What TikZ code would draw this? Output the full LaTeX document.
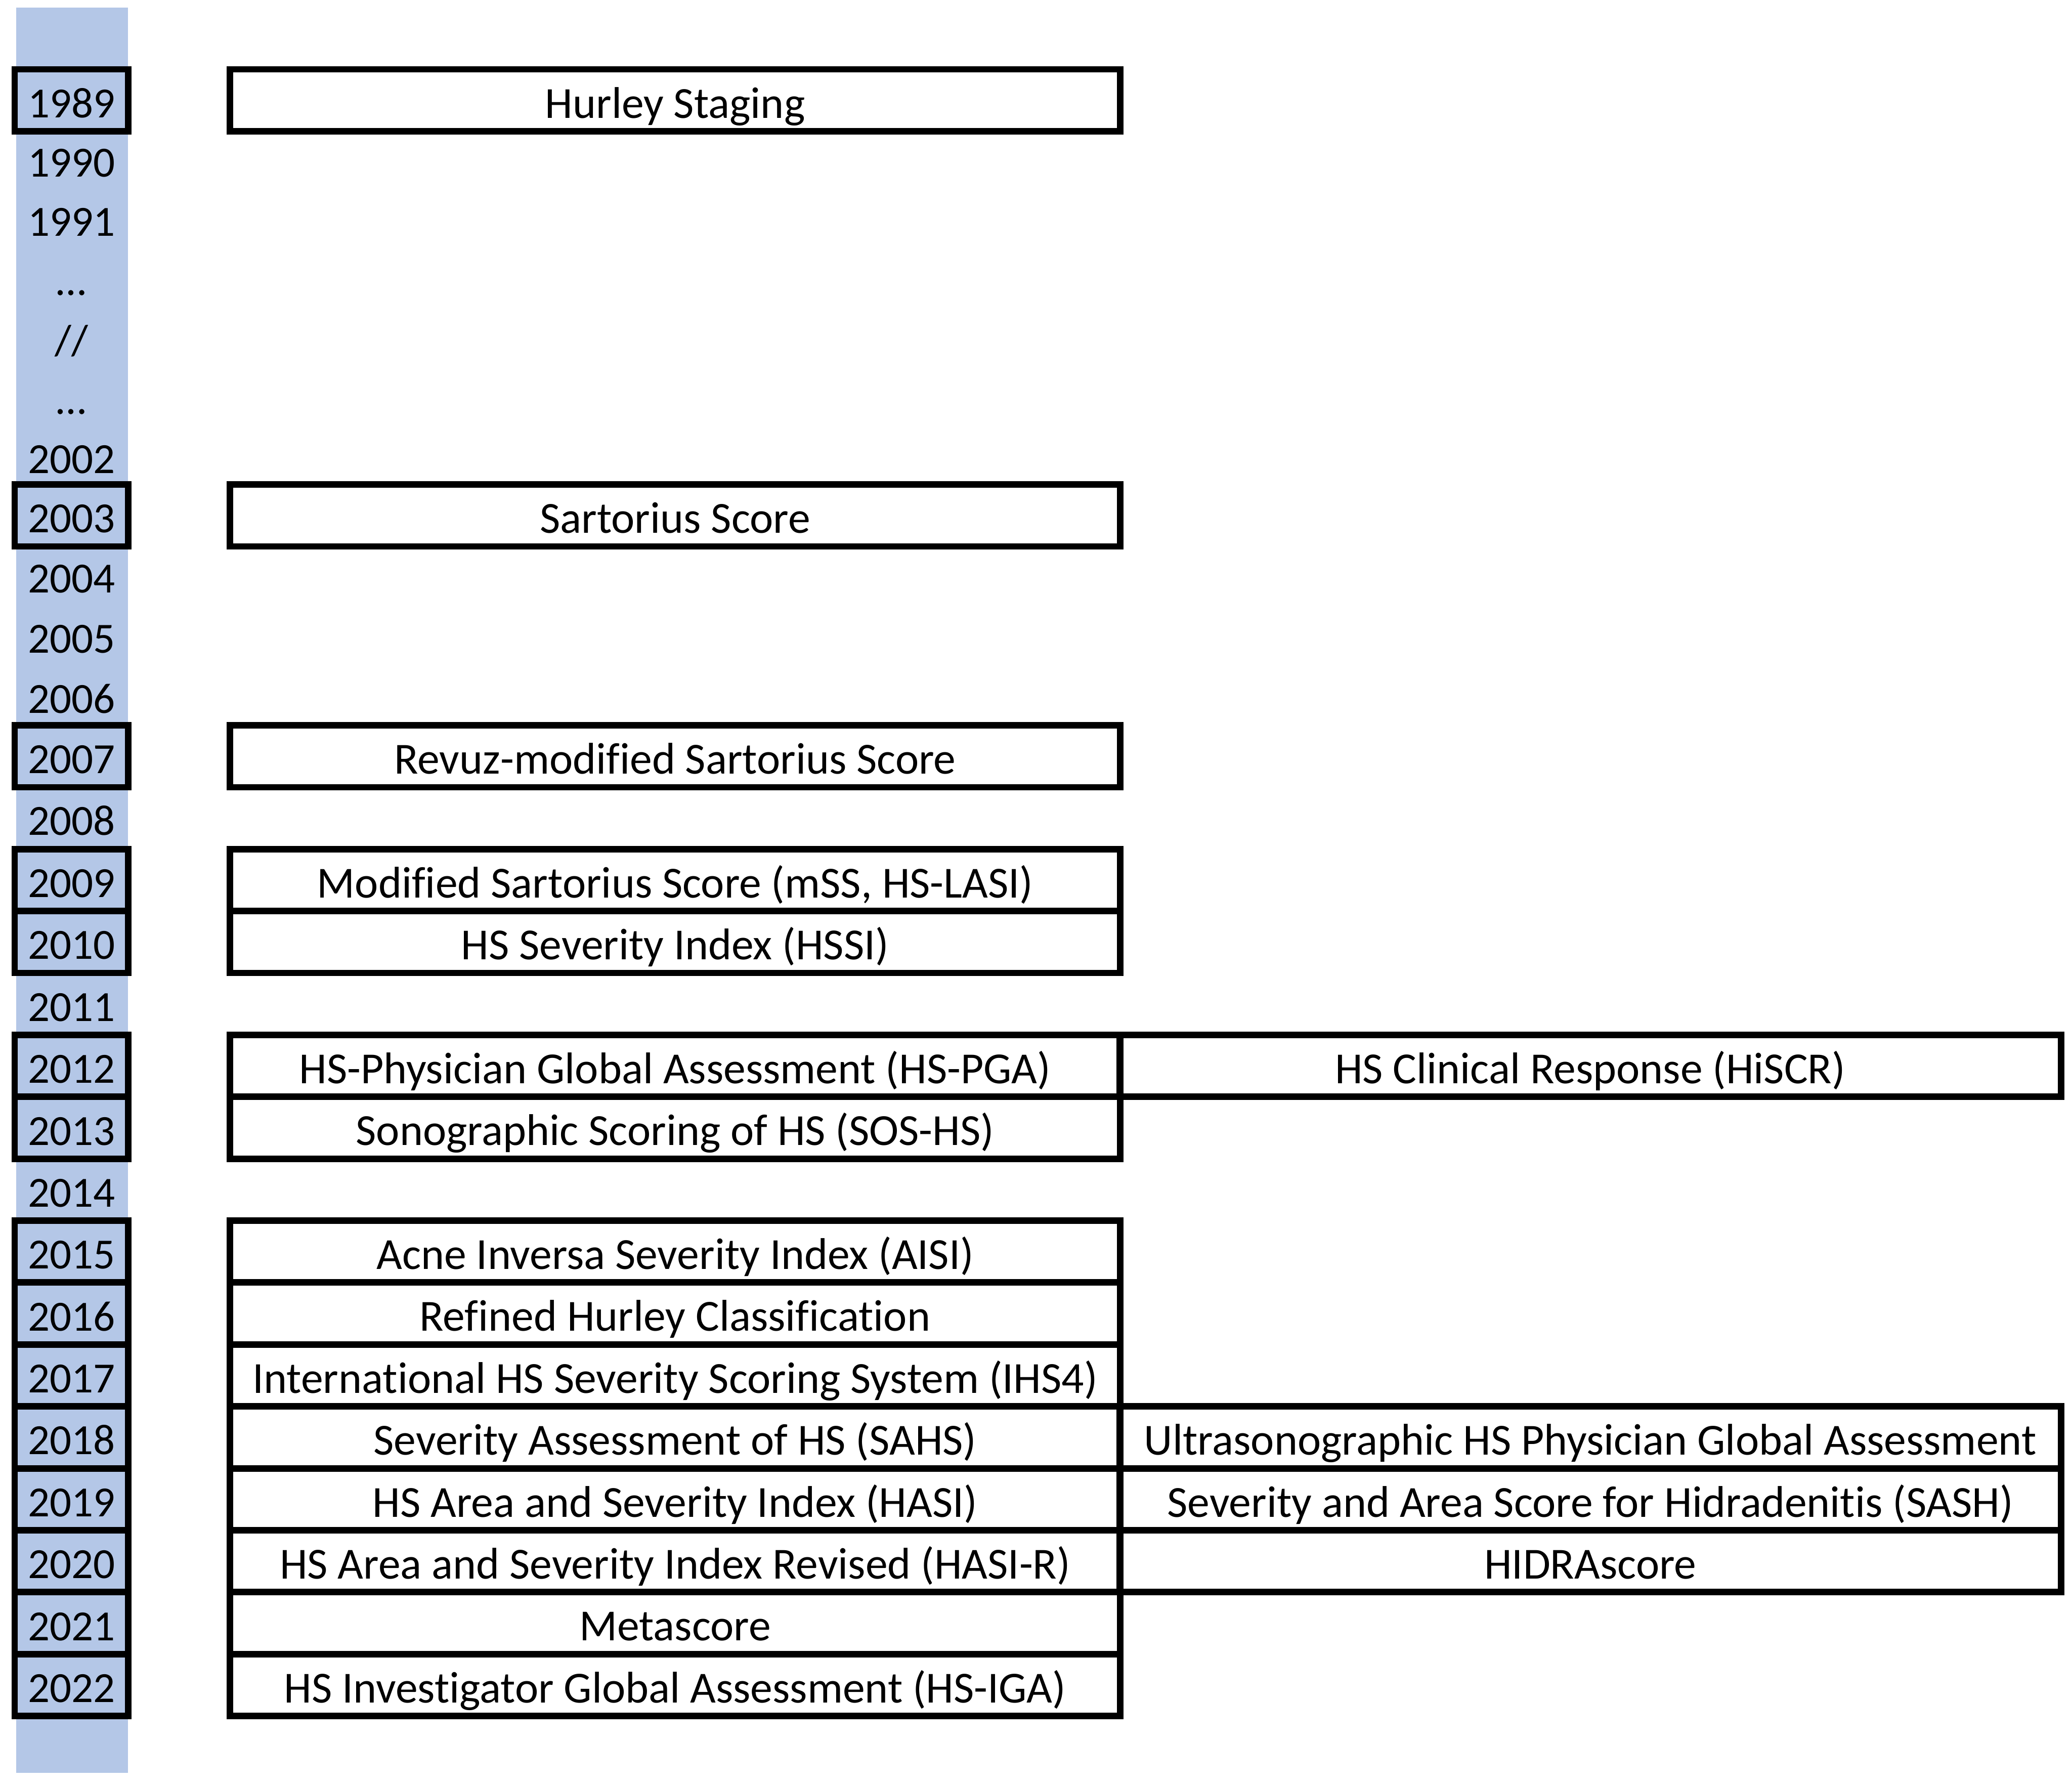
\documentclass[tikz,border=0pt]{standalone}
\usepackage{fontspec}
\setmainfont{Carlito}[Ligatures=NoCommon]
\definecolor{yearblue}{RGB}{180,199,231}

\begin{document}
\begin{tikzpicture}[x=0.01cm, y=-0.01cm,
    every node/.style={font=\fontsize{9.25pt}{11pt}\selectfont, inner sep=0pt, text height=7.4pt, text depth=0pt},
    yearbox/.style={draw, line width=1.4pt, minimum width=0.86cm, minimum height=0.4685cm},
    toolbox/.style={draw, line width=1.4pt, minimum width=6.734cm, minimum height=0.4685cm,
      font=\fontsize{9.55pt}{11pt}\selectfont, text height=7.6pt},
    toolboxr/.style={toolbox, minimum width=7.118cm}]
  \useasboundingbox (0,0) rectangle (1568,1349.6);
  % year column
  \fill[yearblue] (12.1,5.7) rectangle (96.8,1341.5);

  \node[yearbox] (y1989) at (54.1,75.9)  {1989};
  \node          (y1990) at (54.1,120.8) {1990};
  \node          (y1991) at (54.1,165.6) {1991};
  \node          (dotsa) at (54.1,210.5) {…};
  \node          (gap)   at (54.1,255.4) {//};
  \node          (dotsb) at (54.1,300.3) {…};
  \node          (y2002) at (54.1,345.1) {2002};
  \node[yearbox] (y2003) at (54.1,390.0) {2003};
  \node          (y2004) at (54.1,435.6) {2004};
  \node          (y2005) at (54.1,481.1) {2005};
  \node          (y2006) at (54.1,526.7) {2006};
  \node[yearbox] (y2007) at (54.1,572.2) {2007};
  \node          (y2008) at (54.1,619.0) {2008};
  \node[yearbox] (y2009) at (54.1,665.9) {2009};
  \node[yearbox] (y2010) at (54.1,712.7) {2010};
  \node          (y2011) at (54.1,759.6) {2011};
  \node[yearbox] (y2012) at (54.1,806.4) {2012};
  \node[yearbox] (y2013) at (54.1,853.3) {2013};
  \node          (y2014) at (54.1,900.1) {2014};
  \node[yearbox] (y2015) at (54.1,947.0) {2015};
  \node[yearbox] (y2016) at (54.1,993.8) {2016};
  \node[yearbox] (y2017) at (54.1,1040.7) {2017};
  \node[yearbox] (y2018) at (54.1,1087.5) {2018};
  \node[yearbox] (y2019) at (54.1,1134.4) {2019};
  \node[yearbox] (y2020) at (54.1,1181.2) {2020};
  \node[yearbox] (y2021) at (54.1,1228.1) {2021};
  \node[yearbox] (y2022) at (54.1,1274.9) {2022};

  % scores, first column
  \node[toolbox] (hurley)  at (510.9,75.9)   {Hurley Staging};
  \node[toolbox] (sart)    at (510.9,390.0)  {Sartorius Score};
  \node[toolbox] (revuz)   at (510.9,572.2)  {Revuz-modified Sartorius Score};
  \node[toolbox] (mss)     at (510.9,665.9)  {Modified Sartorius Score (mSS, HS-LASI)};
  \node[toolbox] (hssi)    at (510.9,712.7)  {HS Severity Index (HSSI)};
  \node[toolbox] (hspga)   at (510.9,806.4)  {HS-Physician Global Assessment (HS-PGA)};
  \node[toolbox] (soshs)   at (510.9,853.3)  {Sonographic Scoring of HS (SOS-HS)};
  \node[toolbox] (aisi)    at (510.9,947.0)  {Acne Inversa Severity Index (AISI)};
  \node[toolbox] (refined) at (510.9,993.8)  {Refined Hurley Classification};
  \node[toolbox] (ihs4)    at (510.9,1040.7) {International HS Severity Scoring System (IHS4)};
  \node[toolbox] (sahs)    at (510.9,1087.5) {Severity Assessment of HS (SAHS)};
  \node[toolbox] (hasi)    at (510.9,1134.4) {HS Area and Severity Index (HASI)};
  \node[toolbox] (hasir)   at (510.9,1181.2) {HS Area and Severity Index Revised (HASI-R)};
  \node[toolbox] (meta)    at (510.9,1228.1) {Metascore};
  \node[toolbox] (hsiga)   at (510.9,1274.9) {HS Investigator Global Assessment (HS-IGA)};

  % scores, second column
  \node[toolboxr] (hiscr)  at (1203.5,806.4)  {HS Clinical Response (HiSCR)};
  \node[toolboxr] (uspga)  at (1203.5,1087.5) {Ultrasonographic HS Physician Global Assessment};
  \node[toolboxr] (sash)   at (1203.5,1134.4) {Severity and Area Score for Hidradenitis (SASH)};
  \node[toolboxr] (hidra)  at (1203.5,1181.2) {HIDRAscore};
\end{tikzpicture}
\end{document}
